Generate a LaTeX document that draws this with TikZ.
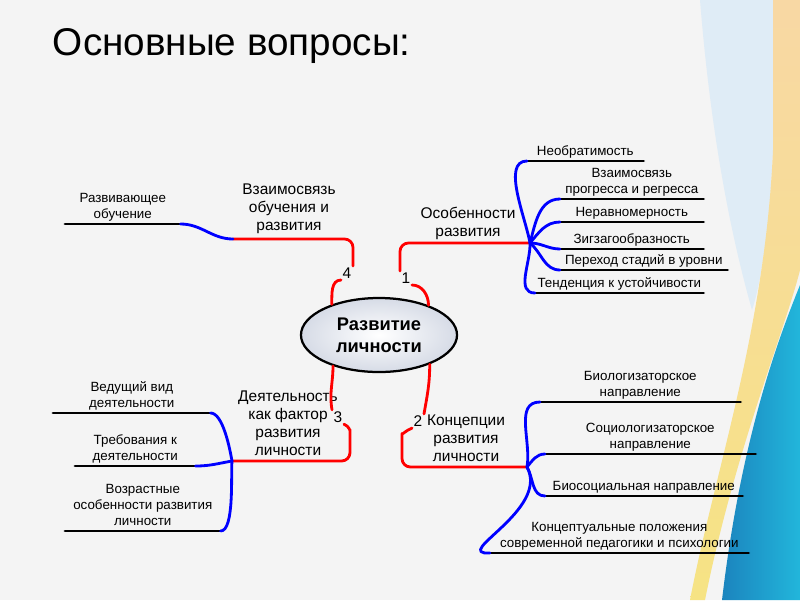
\documentclass[tikz,border=0pt]{standalone}
\usepackage{fontspec}
\setmainfont{Liberation Sans}
\usetikzlibrary{shapes.geometric}

\definecolor{slidebg}{HTML}{F4F4F4}
\definecolor{paleblue}{HTML}{DFECF6}
\definecolor{peach}{HTML}{F8D8A4}
\definecolor{lemon}{HTML}{F6E384}
\definecolor{deepsea}{HTML}{1B84BE}
\definecolor{lagoon}{HTML}{22B6DB}
\definecolor{ovalfill}{HTML}{D6DBE6}

\begin{document}
\begin{tikzpicture}[x=0.025cm, y=-0.025cm, line cap=round, line join=round,
      every node/.append style={font=\fontsize{9.5}{11.4}\selectfont},
      trunk/.style={draw=red, line width=2pt, rounded corners=6pt},
      twig/.style={draw=blue, line width=2pt},
      rule/.style={draw=black, line width=2pt}]
    \tikzstyle{leaf} = [anchor=south west, align=center, inner xsep=0pt, inner ysep=0.6pt, execute at end node=\strut]
    \tikzstyle{topic} = [align=center, font=\fontsize{11}{12.8}\selectfont]
    \tikzstyle{num} = [inner sep=1pt, font=\fontsize{11}{13}\selectfont]
    % slide background
    \useasboundingbox (0,0) rectangle (800,600);
    \fill[slidebg] (0,0) rectangle (800,600);
    \fill[paleblue] (700,0) -- (773,0) -- (773,150) .. controls (770,220) and (762,280) .. (752,310)
      .. controls (735,250) and (712,150) .. (700,0) -- cycle;
    \shade[top color=peach, bottom color=lemon] (773,0) -- (800,0) -- (800,270)
      .. controls (785,330) and (735,450) .. (705,600) -- (690,600)
      .. controls (715,470) and (765,330) .. (773,150) -- cycle;
    \shade[left color=deepsea, right color=lagoon] (800,285) .. controls (782,330) and (742,430) .. (722,600)
      -- (800,600) -- cycle;

    \node (title) [anchor=base west, font=\fontsize{27.5}{33}\selectfont] at (48,55) {Основные вопросы:};

    % centre
    \node (core) [ellipse, draw, line width=1.6pt, inner color=white, outer color=ovalfill,
      minimum width=3.9cm, minimum height=1.85cm, align=center,
      font=\bfseries\fontsize{13}{15.6}\selectfont] at (379,335) {Развитие\\личности};

    \node (n1) [num] at (406,278) {1};
    \node (n2) [num] at (418,421) {2};
    \node (n3) [num] at (338,417) {3};
    \node (n4) [num] at (347,273) {4};

    \node (osob) [topic] at (468,223) {Особенности\\развития};
    \node (konc) [topic] at (466,438) {Концепции\\развития\\личности};
    \node (deyat) [topic] at (288,423) {Деятельность\\как фактор\\развития\\личности};
    \node (vzob) [topic] at (289,209) {Взаимосвязь\\обучения и\\развития};

    \coordinate (hub1) at (530,243);
    \coordinate (hub2) at (527,467);
    \coordinate (hub3) at (232,461);
    \coordinate (hub4) at (233,239);
    \coordinate (bend2) at (402,442);
    \coordinate (bend3) at (350,438);

    % red trunks
    \draw[trunk] (n1.south east) to[out=0,in=90] (core.31);
    \draw[trunk] (n1.north west) |- (hub1);
    \draw[trunk] (n4.south west) to[out=180,in=90] (core.147);
    \draw[trunk] (n4.north east) |- (hub4);
    \draw[trunk] (core.214) to[out=-90,in=100] (n3.north west);
    \draw[trunk] (n3.south east) to[out=-20,in=90] (bend3) |- (hub3);
    \draw[trunk] (core.-30) to[out=-90,in=80] (n2.north east);
    \draw[trunk] (n2.south west) to[out=200,in=90] (bend2) |- (hub2);

    % leaves
    \node (neobr) [leaf, minimum width=2.9cm] at (527,161) {Необратимость};
    \node (vzaim) [leaf, minimum width=3.575cm] at (560,199) {Взаимосвязь\\прогресса и регресса};
    \node (nerav) [leaf, minimum width=3.575cm] at (560,222) {Неравномерность};
    \node (zigzag) [leaf, minimum width=3.575cm] at (560,249) {Зигзагообразность};
    \node (perehod) [leaf, minimum width=4.175cm] at (560,270) {Переход стадий в уровни};
    \node (tend) [leaf, minimum width=4.2cm] at (535,293) {Тенденция к устойчивости};

    \node (bio) [leaf, minimum width=5cm] at (540,402) {Биологизаторское\\направление};
    \node (socio) [leaf, minimum width=5.25cm] at (545,454) {Социологизаторское\\направление};
    \node (biosoc) [leaf, minimum width=4.925cm] at (545,496) {Биосоциальная направление};
    \node (concept) [leaf, minimum width=6.45cm] at (490,553) {Концептуальные положения\\современной педагогики и психологии};

    \node (vedush) [leaf, minimum width=3.925cm] at (53,413) {Ведущий вид\\деятельности};
    \node (treb) [leaf, minimum width=3cm] at (75,466) {Требования к\\деятельности};
    \node (vozr) [leaf, minimum width=3.875cm] at (65,531) {Возрастные\\особенности развития\\личности};

    \node (razv) [leaf, minimum width=2.875cm] at (65,224) {Развивающее\\обучение};

    \foreach \leaf in {neobr,vzaim,nerav,zigzag,perehod,tend,bio,socio,biosoc,concept,vedush,treb,vozr,razv}
      \draw[rule] (\leaf.south west) -- (\leaf.south east);

    % blue twigs
    \draw[twig] (hub1) to[out=100,in=180,looseness=0.8] (neobr.south west);
    \draw[twig] (hub1) to[out=75,in=180] (vzaim.south west);
    \draw[twig] (hub1) to[out=50,in=180] (nerav.south west);
    \draw[twig] (hub1) to[out=0,in=180] (zigzag.south west);
    \draw[twig] (hub1) to[out=-40,in=180] (perehod.south west);
    \draw[twig] (hub1) to[out=-88,in=180] (tend.south west);

    \draw[twig] (hub2) to[out=80,in=180] (bio.south west);
    \draw[twig] (hub2) to[out=50,in=180] (socio.south west);
    \draw[twig] (hub2) to[out=-60,in=180] (biosoc.south west);
    \draw[twig] (hub2) .. controls (550,510) and (450,555) .. (concept.south west);

    \draw[twig] (hub3) to[out=100,in=0,looseness=0.6] (vedush.south east);
    \draw[twig] (hub3) to[out=190,in=0] (treb.south east);
    \draw[twig] (hub3) to[out=-95,in=0,looseness=0.5] (vozr.south east);

    \draw[twig] (hub4) to[out=180,in=0] (razv.south east);
  \end{tikzpicture}
\end{document}
